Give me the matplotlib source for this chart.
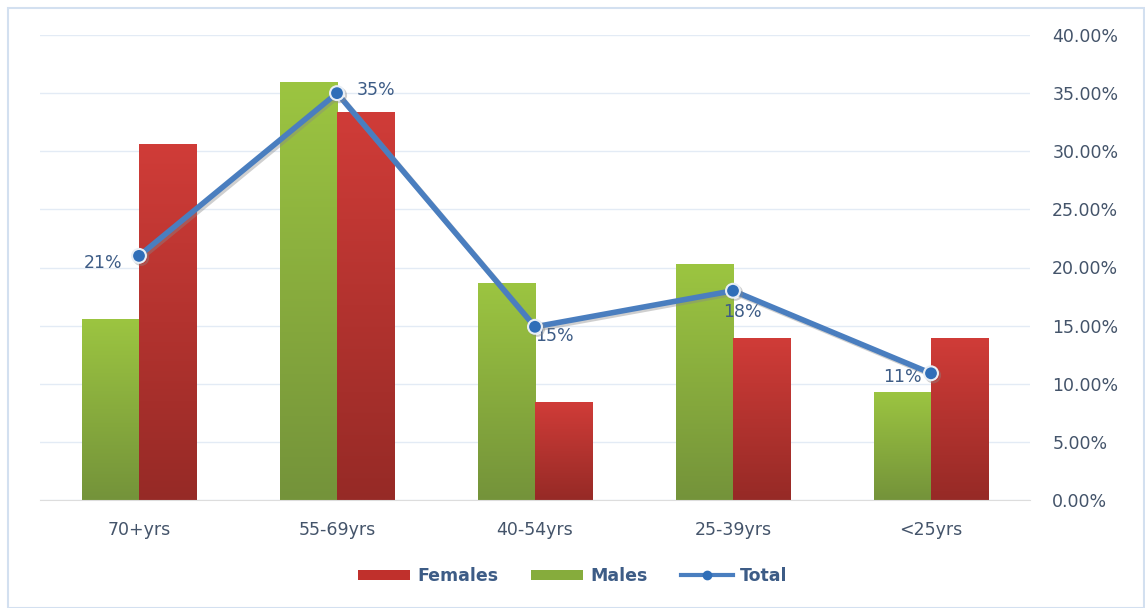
import matplotlib
matplotlib.use("Agg")
import matplotlib.pyplot as plt
import numpy as np
from matplotlib.patches import Rectangle
from matplotlib.lines import Line2D
from matplotlib.ticker import PercentFormatter
import matplotlib.patheffects as pe

categories = ["70+yrs", "55-69yrs", "40-54yrs", "25-39yrs", "<25yrs"]
males = [15.6, 36.0, 18.7, 20.3, 9.3]
females = [30.6, 33.4, 8.4, 13.9, 13.9]
total = [21.0, 35.0, 14.9, 18.0, 10.9]
total_labels = ["21%", "35%", "15%", "18%", "11%"]

plt.rcParams['font.family'] = ['DejaVu Sans']
txt = "#44546A"
lblc = "#3D5C86"
fs = 12.5

fig = plt.figure(figsize=(11.45, 6.08), dpi=100)
ax = fig.add_axes([40/1145, 1-500/608, 990/1145, 465/608])

x = np.arange(len(categories))
w = 0.29

def gradient_bars(bars, top, bottom):
    c1 = np.array(matplotlib.colors.to_rgb(top))
    c2 = np.array(matplotlib.colors.to_rgb(bottom))
    t = np.linspace(0, 1, 256)[:, None]
    grad = (c1 * (1 - t) + c2 * t)[:, None, :]
    for b in bars:
        bx, by = b.get_x(), b.get_y()
        bw, bh = b.get_width(), b.get_height()
        b.set_facecolor("none")
        b.set_edgecolor("none")
        im = ax.imshow(grad, extent=[bx, bx + bw, by, by + bh], aspect="auto",
                       origin="upper", zorder=2, interpolation="bilinear")
        im.set_clip_path(b)

mb = ax.bar(x - w/2, [v/100 for v in males], w, zorder=2)
fb = ax.bar(x + w/2, [v/100 for v in females], w, zorder=2)
gradient_bars(mb, "#9CC541", "#74933A")
gradient_bars(fb, "#D03C38", "#962A26")

shadow = [pe.SimpleLineShadow(offset=(1.5, -1.5), shadow_color="#888888", alpha=0.4), pe.Normal()]
ax.plot(x, [v/100 for v in total], color="#4A7EBF", lw=4, marker="o", ms=10,
        markerfacecolor="#2F6EB8", markeredgecolor="#E8EEF5", markeredgewidth=1.5,
        zorder=4, path_effects=shadow)

offsets = [(-12, -5, "right"), (14, 2, "left"), (0, -6.5, "left"), (-7, -15, "left"), (-7, -3, "right")]
for xi, v, lab, (dx, dy, ha) in zip(x, total, total_labels, offsets):
    ax.annotate(lab, (xi, v/100), xytext=(dx, dy), textcoords="offset points",
                ha=ha, va="center", fontsize=fs, color=lblc, zorder=3)

ax.set_xlim(-0.5, 4.5)
ax.set_ylim(0, 0.40)
ax.set_yticks(np.arange(0, 0.401, 0.05))
ax.yaxis.set_major_formatter(PercentFormatter(1.0, decimals=2))
ax.yaxis.tick_right()
ax.set_xticks(x)
ax.set_xticklabels(categories)
ax.tick_params(axis="both", length=0, labelsize=fs, labelcolor=txt)
ax.tick_params(axis="y", pad=16)
ax.tick_params(axis="x", pad=15)
ax.grid(axis="y", color="#E3EBF5", lw=1.0, zorder=0)
ax.set_axisbelow(True)
for s in ["top", "left", "right"]:
    ax.spines[s].set_visible(False)
ax.spines["bottom"].set_color("#DDDDDD")

handles = [Rectangle((0, 0), 1, 1, facecolor="#C0302C"),
           Rectangle((0, 0), 1, 1, facecolor="#86AC3C"),
           Line2D([0], [0], color="#4A7EBF", lw=3, marker="o", ms=6, markerfacecolor="#2F6EB8", markeredgecolor="#2F6EB8")]
leg = fig.legend(handles, ["Females", "Males", "Total"], loc="center", bbox_to_anchor=(0.5, 1-576/608),
                 ncol=3, frameon=False, fontsize=fs, handlelength=3, handleheight=0.5,
                 columnspacing=1.9, handletextpad=0.4)
for t in leg.get_texts():
    t.set_color(lblc)
    t.set_fontweight("bold")

fig.patches.append(Rectangle((8/1145, 0), 1136/1145, 1-8/608, transform=fig.transFigure,
                             fill=False, edgecolor="#D3E0F0", lw=1.5))

fig.savefig("out.png", dpi=100)
